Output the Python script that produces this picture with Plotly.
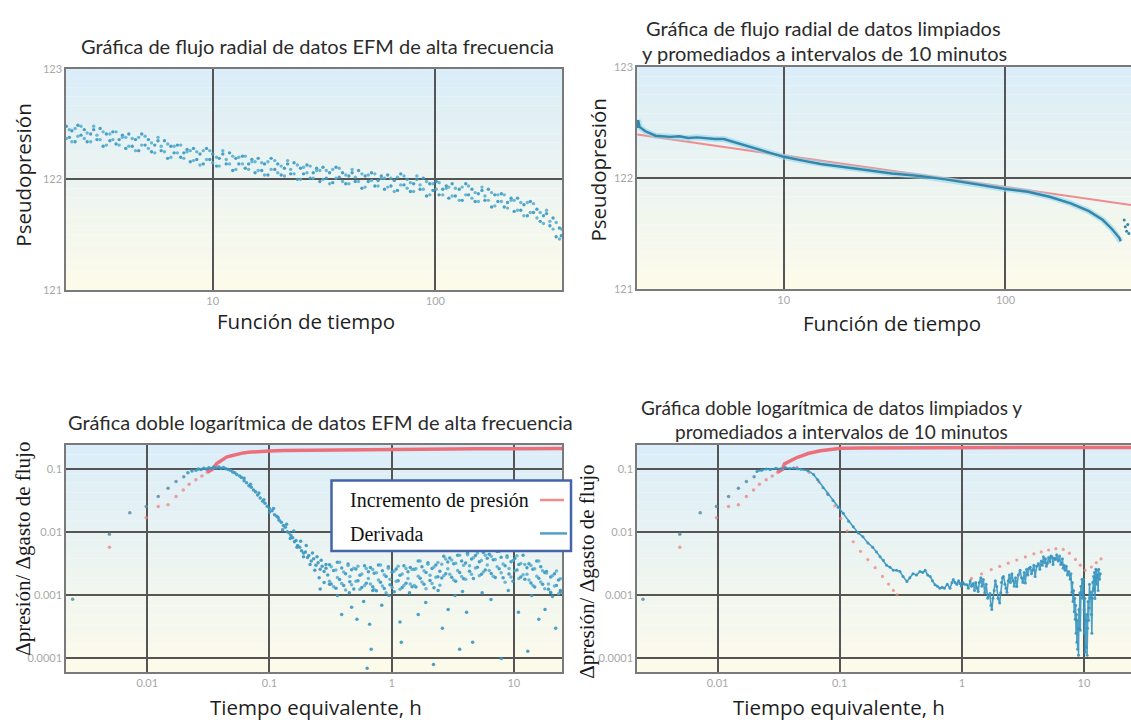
import plotly.graph_objects as go

W, H = 1131, 727

# ---------------- Panel 1: flujo radial, datos EFM de alta frecuencia ----------------
tiempo_p1 = [2.20, 2.27, 2.33, 2.41, 2.48, 2.56, 2.65, 2.73, 2.83, 2.92, 3.02, 3.12,
             3.22, 3.33, 3.45, 3.56, 3.68, 3.80, 3.93, 4.07, 4.20, 4.35, 4.50, 4.65, 4.80, 4.97,
             5.14, 5.31, 5.49, 5.68, 5.87, 6.07, 6.28, 6.49, 6.71, 6.94, 7.18, 7.42, 7.67, 7.93,
             8.20, 8.48, 8.77, 9.07, 9.38, 9.70,
             10.0, 10.4, 10.7, 11.1, 11.5, 11.9, 12.3, 12.7, 13.1, 13.6, 14.0, 14.5, 15.0, 15.5,
             16.0, 16.6, 17.1, 17.7, 18.3, 19.0, 19.6,
             20.3, 21.0, 21.7, 22.4, 23.2, 24.0, 24.8, 25.6, 26.5, 27.4, 28.3, 29.3, 30.3, 31.3,
             32.4, 33.5, 34.6, 35.8, 37.0, 38.3, 39.6, 40.9, 42.3, 43.7, 45.2, 46.8, 48.4,
             50.0, 51.7, 53.5, 55.3, 57.2, 59.1, 61.1, 63.2, 65.4, 67.6, 69.9, 72.3, 74.7, 77.3,
             79.9, 82.6, 85.4, 88.3, 91.3, 94.4, 97.6,
             101, 104, 108, 112, 115, 119, 123, 128, 132, 137, 141, 146, 151, 156, 162, 167, 173,
             179, 185, 191, 198, 204, 211, 219, 226, 234, 242, 250, 259, 267, 276, 286, 296, 306,
             316, 327, 338, 349, 361, 368]
pseudo_p1_a = [122.48, 122.38, 122.44, 122.34, 122.49, 122.40, 122.45, 122.34, 122.41, 122.45, 122.36, 122.46,
               122.30, 122.41, 122.35, 122.43, 122.32, 122.36, 122.40, 122.28, 122.41, 122.30, 122.36, 122.26, 122.41, 122.31,
               122.36, 122.25, 122.31, 122.35, 122.26, 122.35, 122.19, 122.30, 122.24, 122.31, 122.20, 122.24, 122.27, 122.16,
               122.28, 122.18, 122.23, 122.14, 122.28, 122.18,
               122.23, 122.12, 122.19, 122.23, 122.14, 122.24, 122.08, 122.19, 122.14, 122.21, 122.10, 122.14, 122.18, 122.06,
               122.19, 122.08, 122.14, 122.04, 122.19, 122.09, 122.14,
               122.04, 122.10, 122.14, 122.05, 122.15, 122.00, 122.10, 122.05, 122.13, 122.01, 122.06, 122.10, 121.98, 122.11,
               122.01, 122.06, 121.97, 122.11, 122.02, 122.06, 121.96, 122.03, 122.06, 121.98, 122.08, 121.92, 122.03,
               121.98, 122.06, 121.94, 121.99, 122.03, 121.91, 122.04, 121.94, 121.99, 121.90, 122.05, 121.95, 122.00, 121.89,
               121.96, 122.00, 121.91, 122.01, 121.85, 121.96, 121.90,
               121.98, 121.86, 121.91, 121.94, 121.83, 121.96, 121.85, 121.91, 121.81, 121.96, 121.86, 121.91, 121.80, 121.87,
               121.90, 121.81, 121.91, 121.75, 121.86, 121.80, 121.87, 121.75, 121.79, 121.83, 121.71, 121.83, 121.72, 121.77,
               121.67, 121.80, 121.70, 121.73, 121.62, 121.67, 121.69, 121.58, 121.65, 121.48, 121.56, 121.49]
pseudo_p1_b = [122.37, 122.45, 122.34, 122.46, 122.39, 122.48, 122.37, 122.42, 122.34, 122.48, 122.40, 122.36,
               122.43, 122.31, 122.41, 122.36, 122.43, 122.31, 122.38, 122.38, 122.30, 122.37, 122.26, 122.38, 122.31, 122.39,
               122.28, 122.33, 122.24, 122.38, 122.30, 122.25, 122.32, 122.20, 122.30, 122.24, 122.31, 122.19, 122.25, 122.26,
               122.17, 122.25, 122.13, 122.26, 122.18, 122.26,
               122.15, 122.20, 122.12, 122.26, 122.18, 122.14, 122.21, 122.09, 122.20, 122.14, 122.21, 122.09, 122.16, 122.16,
               122.08, 122.15, 122.04, 122.16, 122.09, 122.17, 122.06,
               122.12, 122.03, 122.17, 122.09, 122.05, 122.13, 122.00, 122.11, 122.06, 122.12, 122.01, 122.08, 122.08, 122.00,
               122.08, 121.96, 122.09, 122.01, 122.10, 121.98, 122.04, 121.96, 122.09, 122.02, 121.98, 122.05, 121.93,
               122.04, 121.99, 122.05, 121.94, 122.01, 122.01, 121.93, 122.01, 121.89, 122.02, 121.95, 122.03, 121.92, 121.97,
               121.89, 122.03, 121.95, 121.91, 121.98, 121.86, 121.96,
               121.91, 121.97, 121.86, 121.92, 121.93, 121.85, 121.92, 121.81, 121.93, 121.86, 121.94, 121.83, 121.88, 121.80,
               121.93, 121.85, 121.81, 121.88, 121.76, 121.86, 121.80, 121.86, 121.74, 121.81, 121.81, 121.72, 121.79, 121.67,
               121.79, 121.70, 121.78, 121.65, 121.70, 121.60, 121.72, 121.62, 121.55, 121.61, 121.46, 121.55]

# ---------------- Panel 2: flujo radial, datos limpiados y promediados ----------------
tiempo_p2 = [2.19, 2.21, 2.24, 2.38, 2.65, 3.08, 3.39, 3.71, 4.07, 4.47,
             4.90, 5.37, 6.03, 6.92, 8.39, 10.0, 12.2, 14.7, 18.3, 20.9,
             23.8, 30.8, 41.5, 53.7, 69.8, 100, 126, 158, 197, 238,
             275, 302, 326, 331]
pseudo_p2 = [122.45, 122.52, 122.46, 122.42, 122.38, 122.37, 122.375, 122.36, 122.365, 122.355,
             122.35, 122.35, 122.32, 122.28, 122.23, 122.19, 122.155, 122.125, 122.10, 122.085,
             122.066, 122.04, 122.016, 121.987, 121.95, 121.90, 121.875, 121.83, 121.77, 121.70,
             121.62, 121.54, 121.46, 121.43]
tiempo_p2_fin = [343, 347, 352, 356, 360]
pseudo_p2_fin = [121.62, 121.56, 121.52, 121.58, 121.50]
tiempo_recta = [2.19, 371]
pseudo_recta = [122.39, 121.755]

# ---------------- Panels 3 & 4: doble logarítmica ----------------
tiempo_temprano_inc = [0.0049, 0.0098, 0.0123, 0.0148, 0.0172, 0.0197, 0.022, 0.025, 0.028, 0.031]
incremento_temprano = [0.0058, 0.017, 0.0257, 0.0275, 0.037, 0.047, 0.058, 0.068, 0.078, 0.09]
tiempo_temprano_der = [0.00245, 0.0049, 0.0072, 0.0098, 0.0123, 0.0148, 0.0172, 0.0199]
derivada_temprana = [0.00087, 0.0093, 0.0204, 0.0258, 0.037, 0.050, 0.064, 0.076]

tiempo_inc_p3 = [0.031, 0.034, 0.037, 0.041, 0.0446, 0.048, 0.052, 0.056, 0.061, 0.067, 0.075, 0.085,
                 0.1, 0.13, 0.2, 0.3, 0.5, 1.0, 2.0, 3.0, 5.0, 10.0, 25.0]
incremento_p3 = [0.09, 0.1, 0.123, 0.14, 0.156, 0.163, 0.170, 0.176, 0.182, 0.186, 0.19, 0.193,
                 0.195, 0.198, 0.2, 0.202, 0.204, 0.207, 0.208, 0.21, 0.211, 0.212, 0.213]

tiempo_pico = [0.0215, 0.0232, 0.025, 0.0262, 0.0275, 0.029, 0.0305, 0.032, 0.0335, 0.035, 0.0368, 0.0385,
               0.040, 0.042, 0.044, 0.046]
derivada_pico = [0.088, 0.094, 0.097, 0.101, 0.099, 0.104, 0.101, 0.106, 0.103, 0.108, 0.105, 0.109,
                 0.104, 0.107, 0.102, 0.099]
tiempo_caida_a = [0.048, 0.050, 0.052, 0.054, 0.057, 0.059, 0.062, 0.065, 0.068, 0.071, 0.074, 0.077,
                  0.080, 0.084, 0.088, 0.092, 0.096, 0.100, 0.105, 0.110, 0.115, 0.12, 0.125, 0.13,
                  0.135, 0.14, 0.145, 0.15, 0.155, 0.16, 0.165, 0.17, 0.177, 0.183, 0.19, 0.197,
                  0.205, 0.21, 0.22, 0.23, 0.24, 0.25, 0.26, 0.27, 0.28, 0.29, 0.30]
derivada_caida_a = [0.097, 0.091, 0.088, 0.083, 0.078, 0.074, 0.066, 0.061, 0.055, 0.052, 0.047, 0.044,
                    0.039, 0.035, 0.031, 0.029, 0.026, 0.024, 0.022, 0.019, 0.018, 0.0155, 0.0145, 0.0128,
                    0.0120, 0.0102, 0.0098, 0.0089, 0.0082, 0.0071, 0.0074, 0.0062, 0.0058, 0.0051, 0.0047, 0.0049,
                    0.0040, 0.0043, 0.0035, 0.0038, 0.0030, 0.0033, 0.0026, 0.0029, 0.0024, 0.0027, 0.0021]
tiempo_caida_b = [0.062, 0.07, 0.082, 0.09, 0.1, 0.108, 0.118, 0.128, 0.138, 0.148, 0.158, 0.168,
                  0.18, 0.19, 0.2, 0.215, 0.225, 0.235, 0.245, 0.255, 0.265, 0.28, 0.29, 0.31]
derivada_caida_b = [0.072, 0.058, 0.042, 0.033, 0.021, 0.024, 0.017, 0.011, 0.0135, 0.008, 0.0105, 0.0058,
                    0.0072, 0.0041, 0.0062, 0.0031, 0.0047, 0.0025, 0.0041, 0.0019, 0.0036, 0.0016, 0.0031, 0.0015]
tiempo_plano = [0.31, 0.32, 0.335, 0.35, 0.36, 0.375, 0.39, 0.405, 0.42, 0.44,
                0.455, 0.47, 0.49, 0.51, 0.53, 0.55, 0.57, 0.60, 0.62, 0.645,
                0.67, 0.70, 0.72, 0.75, 0.78, 0.81, 0.84, 0.87, 0.90, 0.94,
                0.97, 1.01, 1.05, 1.09, 1.13, 1.17, 1.22, 1.26, 1.31, 1.36,
                1.42, 1.47, 1.53, 1.58, 1.65, 1.71, 1.77, 1.84, 1.91, 1.98,
                2.06, 2.14, 2.22, 2.30, 2.39, 2.48, 2.57, 2.67, 2.77, 2.88,
                2.99, 3.10, 3.22, 3.34, 3.47, 3.60, 3.74, 3.88, 4.03, 4.18,
                4.34, 4.50, 4.67, 4.85, 5.03, 5.22, 5.42, 5.63, 5.84, 6.06,
                6.29, 6.53, 6.78, 7.04, 7.30, 7.58, 7.87, 8.17, 8.48, 8.80,
                9.13, 9.48, 9.84, 10.2, 10.6, 11.0, 11.4, 11.9, 12.3, 12.8,
                13.3, 13.8, 14.3, 14.8, 15.4, 16.0, 16.6, 17.2, 17.9, 18.5,
                19.2, 20.0, 20.7, 21.5, 22.3, 23.2, 24.0]
derivada_plana_a = [30.5e-4, 15.1e-4, 24.8e-4, 13.0e-4, 33.6e-4, 17.9e-4, 27.3e-4, 14.3e-4, 22.1e-4, 31.5e-4,
                    16.4e-4, 25.6e-4, 12.6e-4, 26.2e-4, 17.1e-4, 20.9e-4, 13.3e-4, 29.5e-4, 15.6e-4, 23.8e-4,
                    27.6e-4, 13.7e-4, 22.4e-4, 11.8e-4, 30.4e-4, 16.2e-4, 24.7e-4, 12.9e-4, 20.0e-4, 28.5e-4,
                    14.8e-4, 23.2e-4, 11.4e-4, 26.2e-4, 17.1e-4, 20.9e-4, 13.3e-4, 29.5e-4, 15.6e-4, 23.8e-4,
                    27.6e-4, 13.7e-4, 26.0e-4, 13.6e-4, 35.2e-4, 18.7e-4, 28.6e-4, 15.0e-4, 23.1e-4, 33.0e-4,
                    17.2e-4, 26.8e-4, 13.2e-4, 30.4e-4, 19.8e-4, 24.2e-4, 18.9e-4, 41.9e-4, 22.1e-4, 33.8e-4,
                    39.2e-4, 19.4e-4, 31.9e-4, 16.7e-4, 43.2e-4, 23.0e-4, 35.1e-4, 18.4e-4, 32.6e-4, 46.5e-4,
                    24.2e-4, 37.8e-4, 18.6e-4, 42.8e-4, 27.9e-4, 34.1e-4, 21.7e-4, 48.1e-4, 25.4e-4, 38.8e-4,
                    45.0e-4, 22.3e-4, 36.6e-4, 19.2e-4, 49.6e-4, 26.4e-4, 40.3e-4, 19.0e-4, 29.4e-4, 42.0e-4,
                    21.8e-4, 34.2e-4, 16.8e-4, 38.6e-4, 25.2e-4, 30.8e-4, 19.6e-4, 43.4e-4, 18.0e-4, 27.5e-4,
                    31.9e-4, 15.8e-4, 26.0e-4, 13.6e-4, 35.2e-4, 18.7e-4, 28.6e-4, 15.0e-4, 23.1e-4, 24.0e-4,
                    12.5e-4, 19.5e-4, 9.6e-4, 22.1e-4, 14.4e-4, 17.6e-4, 11.2e-4]
derivada_plana_b = [16.8e-4, 28.4e-4, 13.7e-4, 25.2e-4, 19.3e-4, 33.6e-4, 15.5e-4, 23.5e-4, 12.2e-4, 29.8e-4,
                    20.0e-4, 14.7e-4, 26.9e-4, 16.7e-4, 28.9e-4, 12.5e-4, 21.9e-4, 14.4e-4, 26.6e-4, 18.6e-4,
                    15.2e-4, 25.7e-4, 12.4e-4, 22.8e-4, 17.5e-4, 30.4e-4, 14.1e-4, 21.3e-4, 11.0e-4, 27.0e-4,
                    18.1e-4, 13.3e-4, 24.3e-4, 16.7e-4, 28.9e-4, 12.5e-4, 21.9e-4, 14.4e-4, 26.6e-4, 18.6e-4,
                    15.2e-4, 25.7e-4, 14.3e-4, 26.4e-4, 20.2e-4, 35.2e-4, 16.3e-4, 24.6e-4, 12.8e-4, 31.2e-4,
                    20.9e-4, 15.4e-4, 28.2e-4, 19.4e-4, 33.4e-4, 14.5e-4, 31.1e-4, 20.5e-4, 37.8e-4, 26.5e-4,
                    21.6e-4, 36.5e-4, 17.6e-4, 32.4e-4, 24.8e-4, 43.2e-4, 20.0e-4, 30.2e-4, 18.0e-4, 44.0e-4,
                    29.5e-4, 21.7e-4, 39.7e-4, 27.3e-4, 47.1e-4, 20.5e-4, 35.7e-4, 23.6e-4, 43.4e-4, 30.4e-4,
                    24.8e-4, 41.9e-4, 20.2e-4, 37.2e-4, 28.5e-4, 49.6e-4, 22.9e-4, 31.4e-4, 16.2e-4, 39.8e-4,
                    26.6e-4, 19.6e-4, 35.8e-4, 24.6e-4, 42.6e-4, 18.5e-4, 32.2e-4, 21.3e-4, 30.8e-4, 21.6e-4,
                    17.6e-4, 29.7e-4, 14.3e-4, 26.4e-4, 20.2e-4, 35.2e-4, 16.3e-4, 24.6e-4, 12.8e-4, 22.7e-4,
                    15.2e-4, 11.2e-4, 20.5e-4, 14.1e-4, 24.3e-4, 10.6e-4, 18.4e-4]
tiempo_disperso = [0.26, 0.36, 0.39, 0.45, 0.47, 0.52, 0.59, 0.63, 0.66, 0.68,
                   0.7, 0.83, 0.95, 1.17, 1.2, 1.4, 1.65, 1.9, 2.2, 2.4,
                   2.6, 2.9, 3.3, 3.6, 3.8, 4.1, 4.6, 5.5, 6.5, 7.9,
                   9.0, 10.9, 13.0, 14.0, 16.0, 18.0, 20.0, 22.0, 24.0]
derivada_dispersa = [0.00126, 0.001, 0.0005, 0.0011, 0.00065, 0.00042, 0.0008, 0.00007, 0.00035, 0.00014,
                     0.0012, 0.0007, 0.001, 0.00038, 0.00018, 0.0011, 0.0005, 0.00077, 0.00008, 0.0012,
                     0.0003, 0.0006, 0.001, 0.00014, 0.00115, 0.00054, 0.00018, 0.0011, 0.00086, 0.0001,
                     0.0012, 0.00054, 0.00013, 0.001, 0.00042, 0.0006, 0.0011, 0.0003, 0.0012]

tiempo_inc_p4 = [0.031, 0.034, 0.0353, 0.04, 0.045, 0.0495, 0.055, 0.0695, 0.085, 0.102, 0.15, 0.3, 1.0, 3.0, 10.0, 25.0]
incremento_p4 = [0.09, 0.1, 0.122, 0.14, 0.155, 0.165, 0.178, 0.197, 0.208, 0.215, 0.218, 0.22, 0.222, 0.222, 0.222, 0.222]
tiempo_modelo = [0.0447, 0.0562, 0.0676, 0.0794, 0.0912, 0.102, 0.115, 0.129, 0.148, 0.17, 0.195, 0.224, 0.251, 0.275, 0.295,
                 1.20, 1.45, 1.74, 2.04, 2.40, 2.82, 3.31, 3.89, 4.47, 5.13, 5.89, 6.76, 7.59, 8.51, 9.33, 10.2, 11.5, 12.6, 13.8]
derivada_modelo = [0.107, 0.089, 0.063, 0.0417, 0.0263, 0.0166, 0.0105, 0.0071, 0.0050, 0.0037, 0.00275, 0.0020, 0.00151, 0.0012, 0.00102,
                   0.00186, 0.00219, 0.00257, 0.00288, 0.00324, 0.00363, 0.00407, 0.00457, 0.0049, 0.00525, 0.0055, 0.00537, 0.00468,
                   0.00372, 0.00302, 0.00251, 0.00282, 0.00331, 0.0038]
tiempo_limpio = [0.021, 0.023, 0.025, 0.027, 0.03, 0.033, 0.036, 0.039, 0.042, 0.045, 0.048, 0.055, 0.061, 0.066,
                 0.073, 0.080, 0.088, 0.097, 0.107, 0.118, 0.129, 0.142, 0.155, 0.17, 0.186, 0.2,
                 0.214, 0.228, 0.242, 0.258, 0.275, 0.292, 0.311, 0.33, 0.355, 0.375, 0.398, 0.425, 0.454, 0.478,
                 0.501, 0.525, 0.55, 0.575, 0.603, 0.63, 0.661, 0.69, 0.72, 0.76, 0.80, 0.83, 0.851, 0.88, 0.91,
                 0.94, 0.966, 0.99, 1.02, 1.05, 1.10, 1.13, 1.17, 1.20, 1.24, 1.27, 1.30, 1.33, 1.36, 1.39, 1.43,
                 1.46, 1.50, 1.54, 1.58, 1.63, 1.70, 1.73, 1.76, 1.80, 1.84, 1.88, 1.93, 1.98, 2.04, 2.08, 2.11,
                 2.15, 2.19, 2.25, 2.30, 2.34, 2.40, 2.45, 2.50, 2.57, 2.63, 2.69, 2.75, 2.82, 2.90, 3.00, 3.08,
                 3.16, 3.24, 3.31, 3.39, 3.47, 3.55, 3.63, 3.72, 3.80, 3.89, 3.98, 4.10, 4.24, 4.35, 4.47, 4.56,
                 4.66, 4.75, 4.84, 4.92, 5.01, 5.13, 5.25, 5.36, 5.46, 5.58, 5.71, 5.85, 5.98, 6.15, 6.31, 6.45,
                 6.56, 6.66, 6.76, 6.88, 7.01, 7.17, 7.33, 7.50, 7.71, 7.82, 7.94, 8.03, 8.13, 8.22, 8.32, 8.40,
                 8.47, 8.54, 8.61, 8.68, 8.75, 8.81, 8.87, 8.95, 9.02, 9.09, 9.16, 9.25, 9.33, 9.44, 9.55, 9.64,
                 9.73, 9.82, 9.91, 10.0, 10.07, 10.15, 10.23, 10.32, 10.4, 10.5, 10.6, 10.7, 10.8, 10.9, 11.0,
                 11.1, 11.2, 11.35, 11.5, 11.6, 11.7, 11.8, 11.9, 12.0, 12.1, 12.2, 12.3, 12.4, 12.5, 12.6, 12.7,
                 12.8, 12.9, 13.05, 13.2, 13.4, 13.6]
derivada_limpia = [0.092, 0.097, 0.101, 0.099, 0.104, 0.102, 0.106, 0.103, 0.105, 0.102, 0.100, 0.095, 0.083, 0.068,
                   0.051, 0.040, 0.032, 0.025, 0.020, 0.015, 0.0123, 0.0098, 0.0085, 0.0068, 0.0058, 0.0049,
                   0.0041, 0.0036, 0.0030, 0.0028, 0.0025, 0.0025, 0.0024, 0.0020, 0.00166, 0.0019, 0.0022, 0.0021, 0.0024, 0.0023,
                   0.0025, 0.0021, 0.0020, 0.0017, 0.00148, 0.0014, 0.0013, 0.00135, 0.0013, 0.0015, 0.0013, 0.0016, 0.00178, 0.0016, 0.0015,
                   0.0017, 0.00155, 0.0014, 0.0016, 0.0015, 0.00148, 0.0013, 0.0017, 0.0014, 0.00155, 0.0012, 0.0016, 0.0013, 0.00115, 0.0016, 0.0019,
                   0.0014, 0.00178, 0.0011, 0.0015, 0.0009, 0.00107, 0.0007, 0.0006, 0.0009, 0.0012, 0.0017, 0.00138, 0.0009, 0.00076, 0.0011, 0.0016,
                   0.0019, 0.0020, 0.0015, 0.0013, 0.00112, 0.0017, 0.0021, 0.0016, 0.0022, 0.0017, 0.0014, 0.0019, 0.00138, 0.0021, 0.0025, 0.0019,
                   0.0016, 0.0023, 0.00158, 0.0026, 0.0021, 0.0027, 0.0028, 0.0022, 0.0025, 0.0030, 0.0020, 0.0029, 0.0032, 0.0026, 0.0035, 0.0030,
                   0.0041, 0.0033, 0.0038, 0.0029, 0.0032, 0.0040, 0.0034, 0.0042, 0.0041, 0.0031, 0.0039, 0.0037, 0.0044, 0.0035, 0.0042, 0.0031,
                   0.0032, 0.0038, 0.0027, 0.0030, 0.0025, 0.0029, 0.0021, 0.0024, 0.0018, 0.0022, 0.00112, 0.0016, 0.0008, 0.0012, 0.00055, 0.0009,
                   0.00042, 0.0007, 0.00025, 0.0005, 0.00018, 0.0004, 0.00014, 0.0003, 0.000112, 0.0006, 0.0003, 0.0011, 0.00028, 0.0014, 0.00112, 0.0018,
                   0.0009, 0.0016, 0.0018, 0.0006, 0.00025, 0.0009, 0.000126, 0.0004, 0.00015, 0.0005, 0.000112, 0.0003, 0.0008, 0.0004, 0.00063,
                   0.0015, 0.0009, 0.00112, 0.0005, 0.00025, 0.0009, 0.0016, 0.0012, 0.0020, 0.0013, 0.0023, 0.00089, 0.0017, 0.0026, 0.0019, 0.0025,
                   0.0015, 0.0021, 0.0012, 0.0026, 0.0018, 0.0022]

# ---------------- styling ----------------
AZUL = "rgba(58,150,192,0.9)"
AZUL_2 = "rgba(80,172,208,0.85)"
AZUL_OSC = "rgb(52,135,172)"
ROJO = "rgb(236,112,122)"
ROJO_CLARO = "rgba(236,130,130,0.75)"
GRID = "#555555"
BORDE = "#7a7a7a"
TICKF = dict(family="Lato, sans-serif", size=11, color="#a8a8a8")

fig = go.Figure()

def sc(x, y, k, **kw):
    ax = "" if k == 1 else str(k)
    fig.add_trace(go.Scatter(x=x, y=y, xaxis="x" + ax, yaxis="y" + ax,
                             showlegend=False, hoverinfo="skip", **kw))

# panel 1
sc(tiempo_p1, pseudo_p1_a, 1, mode="markers", marker=dict(size=3.4, color=AZUL))
sc(tiempo_p1, pseudo_p1_b, 1, mode="markers", marker=dict(size=3.4, color=AZUL_2))

# panel 2
sc(tiempo_recta, pseudo_recta, 2, mode="lines", line=dict(color="rgb(240,140,140)", width=2))
sc(tiempo_p2, pseudo_p2, 2, mode="lines", line=dict(color="rgba(150,215,235,0.6)", width=6))
sc(tiempo_p2, pseudo_p2, 2, mode="lines", line=dict(color=AZUL_OSC, width=2.4))
sc(tiempo_p2_fin, pseudo_p2_fin, 2, mode="markers", marker=dict(size=3, color=AZUL_OSC))

# panel 3
sc(tiempo_temprano_inc, incremento_temprano, 3, mode="markers", marker=dict(size=3.5, color=ROJO_CLARO))
sc(tiempo_inc_p3, incremento_p3, 3, mode="lines", line=dict(color=ROJO, width=3.5))
sc(tiempo_temprano_der, derivada_temprana, 3, mode="markers", marker=dict(size=3.5, color="rgba(90,140,165,0.85)"))
sc(tiempo_pico, derivada_pico, 3, mode="markers", marker=dict(size=3.5, color=AZUL))
sc(tiempo_caida_a, derivada_caida_a, 3, mode="markers", marker=dict(size=3.5, color=AZUL))
sc(tiempo_caida_b, derivada_caida_b, 3, mode="markers", marker=dict(size=3.5, color=AZUL))
sc(tiempo_plano, derivada_plana_a, 3, mode="markers", marker=dict(size=3.5, color=AZUL))
sc(tiempo_plano, derivada_plana_b, 3, mode="markers", marker=dict(size=3.5, color=AZUL_2))
sc(tiempo_disperso, derivada_dispersa, 3, mode="markers", marker=dict(size=3.5, color=AZUL))

# panel 4
sc(tiempo_temprano_inc, incremento_temprano, 4, mode="markers", marker=dict(size=3.5, color=ROJO_CLARO))
sc(tiempo_inc_p4, incremento_p4, 4, mode="lines", line=dict(color=ROJO, width=3.5))
sc(tiempo_modelo, derivada_modelo, 4, mode="markers", marker=dict(size=3.2, color=ROJO_CLARO))
sc(tiempo_temprano_der, derivada_temprana, 4, mode="markers", marker=dict(size=3.5, color="rgba(90,140,165,0.85)"))
sc(tiempo_limpio, derivada_limpia, 4, mode="lines+markers",
   line=dict(color=AZUL, width=1.6), marker=dict(size=3, color=AZUL))

# ---------------- axes ----------------
def fx(p):
    return p / W

def fy(p):
    return 1 - p / H

def xaxis(dom, rng, tv, tt, anchor, gw):
    return dict(domain=dom, type="log", range=rng, tickvals=tv, ticktext=tt, anchor=anchor,
                showgrid=True, gridcolor=GRID, gridwidth=gw, zeroline=False, showline=True,
                linecolor=BORDE, linewidth=1.5, mirror=True, ticks="", tickfont=TICKF, fixedrange=True)

def yaxis(dom, rng, tv, tt, anchor, gw, mirror, log=False):
    d = dict(domain=dom, range=rng, tickvals=tv, ticktext=tt, anchor=anchor,
             showgrid=True, gridcolor=GRID, gridwidth=gw, zeroline=False, showline=True,
             linecolor=BORDE, linewidth=1.5, mirror=mirror, ticks="", tickfont=TICKF, fixedrange=True)
    if log:
        d["type"] = "log"
    return d

XL = [fx(66), fx(562)]
XR = [fx(637), 1.0]
YT1 = [fy(288), fy(63)]
YT2 = [fy(287), fy(61)]
YB = [fy(677), fy(446)]

lin_vals = [121, 122, 123]
lin_text = ["121", "122", "123"]
tx_vals = [10, 100]
tx_text = ["10", "100"]
lx_vals = [0.01, 0.1, 1, 10]
lx_text = ["0.01", "0.1", "1", "10"]
ly_vals = [0.0001, 0.001, 0.01, 0.1]
ly_text = ["0.0001", "0.001", "0.01", "0.1"]

fig.update_layout(
    xaxis=xaxis(XL, [0.341, 2.569], tx_vals, tx_text, "y", 1.6),
    yaxis=yaxis(YT1, [121, 123], lin_vals, lin_text, "x", 1.6, True),
    xaxis2=xaxis(XR, [0.339, 2.566], tx_vals, tx_text, "y2", 1.6),
    yaxis2=yaxis(YT2, [121, 123], lin_vals, lin_text, "x2", 1.6, False),
    xaxis3=xaxis(XL, [-2.665, 1.394], lx_vals, lx_text, "y3", 2),
    yaxis3=yaxis(YB, [-4.213, -0.615], ly_vals, ly_text, "x3", 2, True, log=True),
    xaxis4=xaxis(XR, [-2.66, 1.385], lx_vals, lx_text, "y4", 2),
    yaxis4=yaxis(YB, [-4.213, -0.615], ly_vals, ly_text, "x4", 2, False, log=True),
)

# ---------------- background gradient ----------------
shapes = []
N = 24
top = (218, 237, 248)
bot = (253, 251, 234)
for ax in ["x", "x2", "x3", "x4"]:
    ya = ax.replace("x", "y")
    for i in range(N):
        t = (i + 0.5) / N
        c = tuple(round(bot[j] + (top[j] - bot[j]) * t) for j in range(3))
        shapes.append(dict(type="rect", xref=ax + " domain", yref=ya + " domain",
                           x0=0, x1=1, y0=i / N, y1=(i + 1) / N, layer="below",
                           line=dict(width=0), fillcolor="rgb(%d,%d,%d)" % c))

# ---------------- legend (drawn box, as in the figure) ----------------
shapes.append(dict(type="rect", xref="paper", yref="paper", x0=fx(331.5), x1=fx(571), y0=fy(554), y1=fy(482),
                   line=dict(color="rgb(70,100,170)", width=2.5), fillcolor="white", layer="above"))
shapes.append(dict(type="line", xref="paper", yref="paper", x0=fx(540), x1=fx(564), y0=fy(502), y1=fy(502),
                   line=dict(color="rgb(240,140,140)", width=2.5)))
shapes.append(dict(type="line", xref="paper", yref="paper", x0=fx(540), x1=fx(567), y0=fy(536), y1=fy(536),
                   line=dict(color="rgb(80,160,200)", width=2.5)))

TIT = dict(family="Lato, sans-serif", size=20, color="#2b2b2b")
TIT4 = dict(family="Lato, sans-serif", size=19, color="#2b2b2b")
AXT = dict(family="Open Sans, sans-serif", size=20.5, color="#1e1e1e")
SER = dict(family="Liberation Serif, serif", size=21, color="#1a1a1a")
LEG = dict(family="Liberation Serif, serif", size=20, color="#111111")

def ann(text, x, y, font, angle=0, xanchor="center"):
    return dict(text=text, x=fx(x), y=fy(y), xref="paper", yref="paper", showarrow=False,
                font=font, textangle=angle, xanchor=xanchor, yanchor="middle")

annotations = [
    ann("Gráfica de flujo radial de datos EFM de alta frecuencia", 317, 40, TIT),
    ann("Gráfica de flujo radial de datos limpiados", 823, 21, TIT),
    ann("y promediados a intervalos de 10 minutos", 824, 47, TIT),
    ann("Gráfica doble logarítmica de datos EFM de alta frecuencia", 320, 423, TIT),
    ann("Gráfica doble logarítmica de datos limpiados y", 831, 408, TIT4),
    ann("promediados a intervalos de 10 minutos", 841, 432, TIT4),
    ann("Pseudopresión", 22.7, 171, AXT, -90),
    ann("Función de tiempo", 305.5, 320, AXT),
    ann("Pseudopresión", 598.5, 166, AXT, -90),
    ann("Función de tiempo", 892, 322, AXT),
    ann("Δpresión/ Δgasto de flujo", 22.7, 552, SER, -90),
    ann("Tiempo equivalente, h", 315.5, 713, AXT),
    ann("Δpresión/ Δgasto de flujo", 587, 575, SER, -90),
    ann("Tiempo equivalente, h", 839, 713, AXT),
    ann("Incremento de presión", 348, 502, LEG, 0, "left"),
    ann("Derivada", 348, 537, LEG, 0, "left"),
]

fig.update_layout(width=W, height=H, margin=dict(l=0, r=0, t=0, b=0),
                  paper_bgcolor="white", plot_bgcolor="rgba(0,0,0,0)",
                  shapes=shapes, annotations=annotations, showlegend=False)

fig.write_html("out.html")
